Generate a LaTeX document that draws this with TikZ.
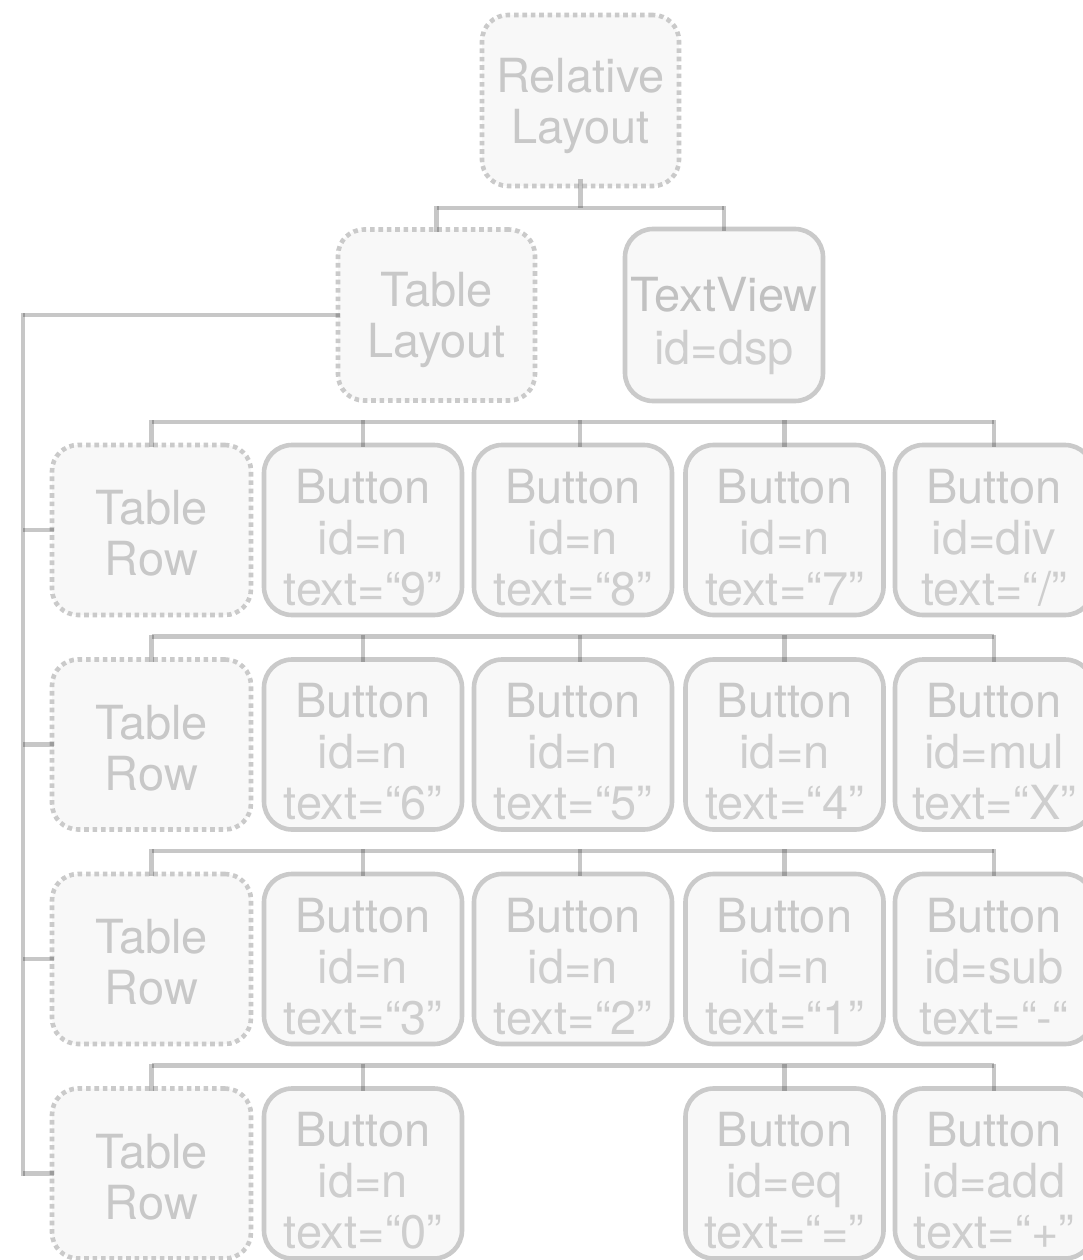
\documentclass[tikz,border=0pt]{standalone}
\usepackage{fontspec}
\setmainfont{TeX Gyre Heros}
\usetikzlibrary{calc}
\definecolor{fillc}{HTML}{F8F8F8}
\definecolor{borderc}{HTML}{CACACA}
\definecolor{textc}{HTML}{C8C8C8}
\definecolor{lightc}{HTML}{CECECE}
\definecolor{darktc}{HTML}{C1C1C1}
\newcommand\mylines[1]{\begin{tabular}{@{}c@{}}#1\end{tabular}}
\newcommand\litetext[1]{\textcolor{lightc}{#1}}
\newcommand\mkbtn[5]{%
  \node[btnbox] (#1) at (#2,#3) {};
  \node[lbl] (#1t) at (#2,#3+14) {\mylines{Button\\\litetext{id=#4}\\\litetext{text=#5}}};}
\begin{document}
\begin{tikzpicture}[x=1pt,y=-1pt,
  boxbase/.style={fill=fillc, draw=borderc, line width=4.6pt, inner sep=0pt, outer sep=0pt},
  dotbox/.style={boxbase, dash pattern=on 4.6pt off 3.8pt, rounded corners=26pt,
                 minimum width=197pt, minimum height=171pt},
  btnbox/.style={boxbase, rounded corners=28pt, minimum width=198pt, minimum height=170pt},
  lbl/.style={inner sep=0pt, text=textc, font=\fontsize{47}{51}\selectfont},
  wire/.style={line width=4.6pt, draw=black, draw opacity=0.22},
]
\useasboundingbox (0,0) rectangle (1083,1260);

% top level
\node[dotbox] (rl) at (580.5,100.5) {};
\node[lbl] (rlt) at (580.5,107.5) {\mylines{Relative\\Layout}};
\node[dotbox] (tl) at (436.5,315) {};
\node[lbl] (tlt) at (436.5,322) {\mylines{Table\\Layout}};
\node[btnbox, minimum height=172pt] (tv) at (724,315) {};
\node[lbl] (tvt) at (724,328) {\mylines{\textcolor{darktc}{TextView}\\[2pt]\litetext{id=dsp}}};

% table rows
\foreach \r/\y in {1/530,2/744.5,3/959,4/1173.5}{
  \node[dotbox, minimum width=199pt, minimum height=170pt] (tr\r) at (151.5,\y) {};
  \node[lbl] (tr\r t) at (151.5,\y+10) {\mylines{Table\\Row}};
}

% buttons
\mkbtn{b11}{363}{530}{n}{“9”}
\mkbtn{b12}{573}{530}{n}{“8”}
\mkbtn{b13}{784.5}{530}{n}{“7”}
\mkbtn{b14}{994}{530}{div}{“/”}
\mkbtn{b21}{363}{744.5}{n}{“6”}
\mkbtn{b22}{573}{744.5}{n}{“5”}
\mkbtn{b23}{784.5}{744.5}{n}{“4”}
\mkbtn{b24}{994}{744.5}{mul}{“X”}
\mkbtn{b31}{363}{959}{n}{“3”}
\mkbtn{b32}{573}{959}{n}{“2”}
\mkbtn{b33}{784.5}{959}{n}{“1”}
\mkbtn{b34}{994}{959}{sub}{“-“}
\mkbtn{b41}{363}{1173.5}{n}{“0”}
\mkbtn{b43}{784.5}{1173.5}{eq}{“=”}
\mkbtn{b44}{994}{1173.5}{add}{“+”}

% connectors: relative layout
\coordinate (jtop) at (580.5,208);
\draw[wire] ($(rl.south)+(0,-7)$) -- (jtop);
\draw[wire] (tl.north |- jtop) -- (tv.north |- jtop);
\draw[wire] ($(tl.north |- jtop)+(0,-2)$) -- ($(tl.north)+(0,2)$);
\draw[wire] ($(tv.north |- jtop)+(0,-2)$) -- ($(tv.north)+(0,2)$);

% trunk from table layout to rows
\coordinate (trunk) at (23,315);
\draw[wire] ($(tl.west)+(2,0)$) -- (trunk);
\draw[wire] ($(trunk)+(0,-2)$) -- ($(trunk |- tr4.west)+(0,2)$);
\foreach \r in {1,2,3,4}{
  \draw[wire] (trunk |- tr\r.west) -- ($(tr\r.west)+(2,0)$);
}

% row brackets
\foreach \r/\yb in {1/422,2/636.5,3/851,4/1065.5}{
  \coordinate (h\r) at (0,\yb);
  \draw[wire] (tr\r.north |- h\r) -- (b\r4.north |- h\r);
  \draw[wire] ($(tr\r.north |- h\r)+(0,-2)$) -- ($(tr\r.north)+(0,2)$);
  \draw[wire] ($(b\r1.north |- h\r)+(0,-2)$) -- ($(b\r1.north)+(0,2)$);
  \draw[wire] ($(b\r3.north |- h\r)+(0,-2)$) -- ($(b\r3.north)+(0,2)$);
  \draw[wire] ($(b\r4.north |- h\r)+(0,-2)$) -- ($(b\r4.north)+(0,2)$);
}
\foreach \r in {1,2,3}{
  \draw[wire] ($(b\r2.north |- h\r)+(7,-2)$) -- ($(b\r2.north)+(7,2)$);
}
\end{tikzpicture}
\end{document}
